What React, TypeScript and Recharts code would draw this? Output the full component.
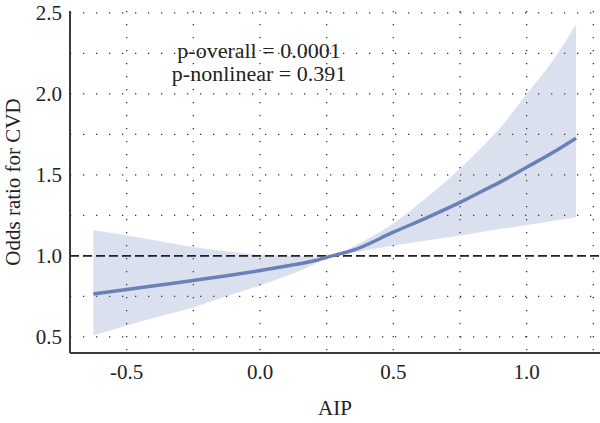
import React from 'react';
import {
  ComposedChart,
  Area,
  Line,
  XAxis,
  YAxis,
  CartesianGrid,
  ReferenceLine,
} from 'recharts';

/** AIP values along the spline */
const aip = [
  -0.625, -0.5, -0.375, -0.25, -0.125, 0, 0.1, 0.2, 0.27, 0.35, 0.5, 0.625, 0.75, 0.825, 0.9, 1.0, 1.1,
  1.185,
];
/** Fitted odds ratio */
const oddsRatio = [
  0.765, 0.792, 0.82, 0.848, 0.877, 0.909, 0.937, 0.968, 1.0, 1.035, 1.146, 1.235, 1.33, 1.393, 1.455,
  1.547, 1.64, 1.727,
];
/** 95% CI lower bound */
const ciLower = [
  0.508, 0.57, 0.627, 0.683, 0.75, 0.817, 0.875, 0.945, 1.0, 1.02, 1.064, 1.095, 1.125, 1.145, 1.165, 1.19,
  1.216, 1.239,
];
/** 95% CI upper bound */
const ciUpper = [
  1.16, 1.125, 1.09, 1.054, 1.028, 1.006, 1.0, 0.995, 1.0, 1.06, 1.2, 1.36, 1.54, 1.66, 1.79, 2.0, 2.21,
  2.43,
];

const xTicks = [-0.5, 0, 0.5, 1.0];
const yTicks = [0.5, 1.0, 1.5, 2.0, 2.5];
const xGrid = [-0.5, -0.25, 0, 0.25, 0.5, 0.75, 1.0, 1.25];
const yGrid = [0.5, 0.75, 1.0, 1.25, 1.5, 1.75, 2.0, 2.25, 2.5];

const pOverall = 'p-overall = 0.0001';
const pNonlinear = 'p-nonlinear = 0.391';

const FONT = '"Liberation Serif", "Times New Roman", serif';

const data = aip.map((x, i) => ({
  aip: x,
  or: oddsRatio[i],
  band: [ciLower[i], ciUpper[i]],
}));

const fmt = (v: number) => v.toFixed(1);

export default function App() {
  return (
    <div style={{ position: 'absolute', left: 0, top: 0, width: 600, height: 423, background: '#fff' }}>
      <ComposedChart
        width={600}
        height={423}
        data={data}
        margin={{ top: 11, right: 0, bottom: 0, left: 0 }}
        style={{ fontFamily: FONT }}
      >
        <CartesianGrid
          verticalValues={xGrid}
          horizontalValues={yGrid}
          stroke="#333"
          strokeWidth={1.3}
          strokeDasharray="1.3 11.7"
        />
        <XAxis
          type="number"
          dataKey="aip"
          domain={[-0.7125, 1.275]}
          ticks={xTicks}
          tickFormatter={fmt}
          allowDataOverflow
          height={70}
          tickLine={false}
          tickMargin={5}
          axisLine={{ stroke: '#3a3a3a', strokeWidth: 2 }}
          tick={{ fill: '#222', fontSize: 21, fontFamily: FONT }}
          label={{ value: 'AIP', position: 'insideBottom', offset: 8, fill: '#222', fontSize: 21, fontFamily: FONT }}
        />
        <YAxis
          type="number"
          domain={[0.4, 2.512]}
          ticks={yTicks}
          tickFormatter={fmt}
          allowDataOverflow
          width={70}
          tickLine={false}
          axisLine={{ stroke: '#3a3a3a', strokeWidth: 2 }}
          tick={{ fill: '#222', fontSize: 21, fontFamily: FONT }}
          label={{
            value: 'Odds ratio for CVD',
            angle: -90,
            position: 'center',
            dx: -22,
            fill: '#222',
            fontSize: 21,
            fontFamily: FONT,
          }}
        />
        <Area
          type="monotone"
          dataKey="band"
          stroke="none"
          fill="#4a63b0"
          fillOpacity={0.2}
          isAnimationActive={false}
        />
        <ReferenceLine y={1} stroke="#222" strokeWidth={1.6} strokeDasharray="9 4" />
        <Line
          type="monotone"
          dataKey="or"
          stroke="#6a80b9"
          strokeWidth={3.5}
          dot={false}
          isAnimationActive={false}
        />
      </ComposedChart>
      <div
        style={{
          position: 'absolute',
          left: 159,
          top: 39,
          width: 200,
          textAlign: 'center',
          fontFamily: FONT,
          fontSize: 22,
          lineHeight: '23px',
          color: '#222',
        }}
      >
        <div>{pOverall}</div>
        <div>{pNonlinear}</div>
      </div>
    </div>
  );
}
